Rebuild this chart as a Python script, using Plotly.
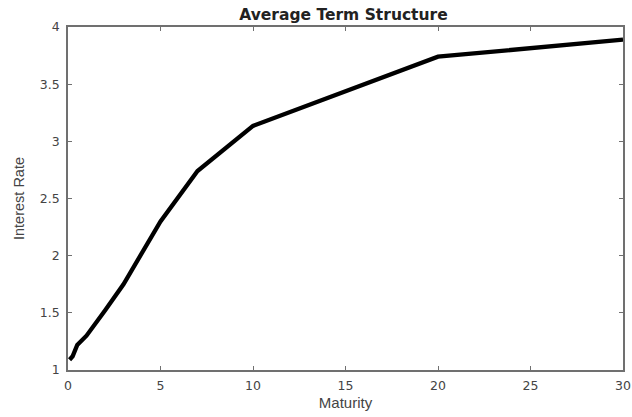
import plotly.graph_objects as go

maturity = [0.083, 0.25, 0.5, 1, 2, 3, 5, 7, 10, 20, 30]
rate = [1.09, 1.12, 1.22, 1.30, 1.52, 1.75, 2.30, 2.74, 3.135, 3.74, 3.89]

x_ticks = [0, 5, 10, 15, 20, 25, 30]
y_ticks = [1, 1.5, 2, 2.5, 3, 3.5, 4]

fig = go.Figure()
fig.add_trace(go.Scatter(x=maturity, y=rate, mode="lines",
                         line=dict(color="black", width=4.3), showlegend=False,
                         hoverinfo="skip"))

axis_common = dict(showline=True, linecolor="#707070", linewidth=1.5, mirror="ticks",
                   ticks="inside", ticklen=4, tickcolor="#707070", tickwidth=1,
                   showgrid=False, zeroline=False, automargin=False,
                   tickfont=dict(family="DejaVu Sans", size=12.5, color="#444444"))

fig.update_layout(
    width=632, height=417,
    margin=dict(l=68, r=9, t=27, b=47),
    paper_bgcolor="white", plot_bgcolor="white",
    title=dict(text="<b>Average Term Structure</b>", x=343.5/632, xanchor="center",
               y=1 - 15/417, yanchor="middle",
               font=dict(family="DejaVu Sans", size=15.5, color="#222222")),
    xaxis=dict(range=[0, 30], tickvals=x_ticks, ticktext=[str(v) for v in x_ticks],
               ticklabelstandoff=3,
               title=dict(text="Maturity", standoff=6,
                          font=dict(family="Liberation Sans", size=15, color="#444444")),
               **axis_common),
    yaxis=dict(range=[1, 4], tickvals=y_ticks, ticktext=[f"{v:g}" for v in y_ticks],
               ticklabelstandoff=4,
               title=dict(text="Interest Rate", standoff=12,
                          font=dict(family="Liberation Sans", size=14.5, color="#444444")),
               **axis_common),
)

fig.write_html("out.html", config={"displayModeBar": False},
               post_script="document.body.style.margin='0';")
